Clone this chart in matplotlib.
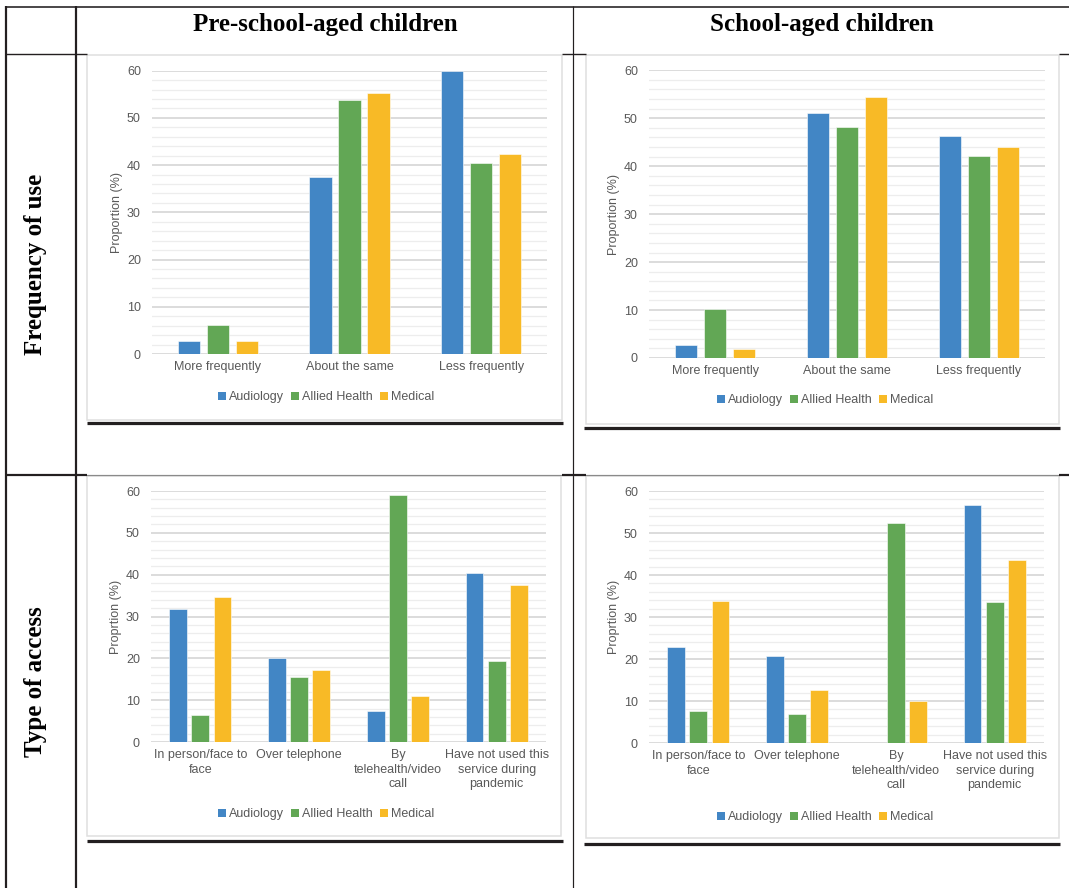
import matplotlib
matplotlib.use("Agg")
import matplotlib.pyplot as plt
import numpy as np
from matplotlib.lines import Line2D
from matplotlib.patches import Rectangle, Patch

W, H = 1069, 888
DPI = 100

# ---- data -------------------------------------------------------------
series_names = ["Audiology", "Allied Health", "Medical"]
colors = ["#4286C5", "#62A755", "#F8BA26"]

freq_categories = ["More frequently", "About the same", "Less frequently"]
freq_preschool_audiology = [2.7, 37.4, 60.0]
freq_preschool_allied = [6.1, 53.7, 40.5]
freq_preschool_medical = [2.7, 55.3, 42.3]

freq_school_audiology = [2.8, 51.1, 46.3]
freq_school_allied = [10.2, 48.1, 42.1]
freq_school_medical = [1.9, 54.4, 43.9]

access_categories = ["In person/face to\nface", "Over telephone",
                     "By\ntelehealth/video\ncall",
                     "Have not used this\nservice during\npandemic"]
access_preschool_audiology = [31.8, 20.0, 7.5, 40.5]
access_preschool_allied = [6.4, 15.6, 59.0, 19.3]
access_preschool_medical = [34.7, 17.3, 10.9, 37.6]

access_school_audiology = [22.8, 20.6, 0.0, 56.7]
access_school_allied = [7.7, 7.0, 52.3, 33.5]
access_school_medical = [33.7, 12.6, 9.9, 43.6]

column_titles = ["Pre-school-aged children", "School-aged children"]
row_titles = ["Frequency of use", "Type of access"]
yticks = [0, 10, 20, 30, 40, 50, 60]

# ---- helpers ----------------------------------------------------------
fig = plt.figure(figsize=(W / DPI, H / DPI), dpi=DPI)
fig.patch.set_facecolor("white")


def fx(x):
    return x / W


def fy(y):
    return 1 - y / H


def hline(y, x0, x1, lw=1.0, color="#231F20"):
    fig.add_artist(Line2D([fx(x0), fx(x1)], [fy(y), fy(y)], lw=lw * 0.72,
                          color=color, transform=fig.transFigure,
                          solid_capstyle="butt"))


def vline(x, y0, y1, lw=1.0, color="#231F20"):
    fig.add_artist(Line2D([fx(x), fx(x)], [fy(y0), fy(y1)], lw=lw * 0.72,
                          color=color, transform=fig.transFigure,
                          solid_capstyle="butt"))


def box(x0, y0, x1, y1, color="#DEDEDE", lw=1.5):
    fig.add_artist(Rectangle((fx(x0), fy(y1)), fx(x1 - x0), (y1 - y0) / H,
                             fill=False, ec=color, lw=lw * 0.72,
                             transform=fig.transFigure))


TEXT_GREY = "#595959"
SANS = ["Liberation Sans", "DejaVu Sans"]
SERIF = ["Liberation Serif", "DejaVu Serif"]


def chart(ax_px, cats, data, ylabel, legend_center, legend_y, width, step,
          pad):
    x0, y0, x1, y1 = ax_px
    ax = fig.add_axes([fx(x0), fy(y1), fx(x1 - x0), (y1 - y0) / H])
    n = len(cats)
    x = np.arange(n)
    for i, (vals, c) in enumerate(zip(data, colors)):
        ax.bar(x + (i - 1) * step, vals, width=width, color=c, zorder=3,
               edgecolor="white", linewidth=0.4)
    ax.set_xlim(-0.5, n - 0.5)
    ax.set_ylim(0, 60)
    ax.set_yticks(yticks)
    ax.set_yticks(np.arange(0, 61, 2), minor=True)
    ax.set_xticks(x)
    ax.set_xticklabels(cats, linespacing=1.3)
    for s in ax.spines.values():
        s.set_visible(False)
    ax.grid(axis="y", which="major", color="#D9D9D9", lw=1.3, zorder=1)
    ax.grid(axis="y", which="minor", color="#EDEDED", lw=0.9, zorder=0)
    ax.tick_params(axis="both", which="both", length=0, colors=TEXT_GREY,
                   labelsize=9)
    ax.tick_params(axis="y", pad=8)
    ax.tick_params(axis="x", pad=pad)
    for lab in ax.get_xticklabels() + ax.get_yticklabels():
        lab.set_fontfamily(SANS)
    ax.set_ylabel(ylabel, color=TEXT_GREY, fontsize=9, family=SANS,
                  labelpad=3)
    handles = [Patch(facecolor=c, edgecolor="none") for c in colors]
    leg = fig.legend(handles, series_names, loc="center",
                     bbox_to_anchor=(fx(legend_center), fy(legend_y)),
                     ncol=3, frameon=False,
                     handlelength=0.6, handleheight=0.6, handletextpad=0.25,
                     columnspacing=0.6, borderaxespad=0,
                     prop={"family": SANS, "size": 9})
    for t in leg.get_texts():
        t.set_color(TEXT_GREY)
    return ax


# ---- table frame ------------------------------------------------------
hline(7, 5, 1069, lw=1.6)
vline(6, 6, 888, lw=2.2)
vline(76, 6, 888, lw=2.2)
vline(573, 6, 888, lw=1.2)
hline(54, 6, 87, lw=1.4)
hline(54, 562, 586, lw=1.4)
hline(54, 1059, 1069, lw=1.4)
hline(475, 86, 1060, lw=1.2, color="#8A8A8A")
hline(475, 6, 87, lw=2.2)
hline(475, 562, 586, lw=2.2)
hline(475, 1059, 1069, lw=2.2)

# chart frames and thick rules beneath them
box(87, 55, 562, 420)
box(586, 55, 1059, 424)
box(87, 476, 561, 836)
box(586, 476, 1059, 838)
hline(423, 87, 563, lw=3.2)
hline(428, 584, 1060, lw=3.2)
hline(841, 87, 563, lw=3.2)
hline(844, 584, 1060, lw=3.2)

# column and row headings
HEAD_SIZE = 18
fig.text(fx(325), fy(24), column_titles[0], ha="center", va="center",
         family=SERIF, fontweight="bold", fontsize=HEAD_SIZE)
fig.text(fx(822), fy(24), column_titles[1], ha="center", va="center",
         family=SERIF, fontweight="bold", fontsize=HEAD_SIZE)
fig.text(fx(36), fy(264), row_titles[0], ha="center", va="center",
         rotation=90, family=SERIF, fontweight="bold", fontsize=HEAD_SIZE)
fig.text(fx(36), fy(682), row_titles[1], ha="center", va="center",
         rotation=90, family=SERIF, fontweight="bold", fontsize=HEAD_SIZE)

# ---- the four charts --------------------------------------------------
chart((152, 70.7, 547, 354), freq_categories,
      [freq_preschool_audiology, freq_preschool_allied,
       freq_preschool_medical],
      "Proportion (%)", 326, 397, 0.17, 0.22, 5)
chart((649, 70.3, 1045, 358), freq_categories,
      [freq_school_audiology, freq_school_allied, freq_school_medical],
      "Proportion (%)", 825, 400, 0.17, 0.22, 5)
chart((151, 491, 546, 742), access_categories,
      [access_preschool_audiology, access_preschool_allied,
       access_preschool_medical],
      "Proprtion (%)", 326, 814, 0.18, 0.225, 5)
chart((649, 491, 1044, 743), access_categories,
      [access_school_audiology, access_school_allied,
       access_school_medical],
      "Proprtion (%)", 825, 817, 0.18, 0.225, 5)

fig.savefig("out.png", dpi=DPI, facecolor="white")
